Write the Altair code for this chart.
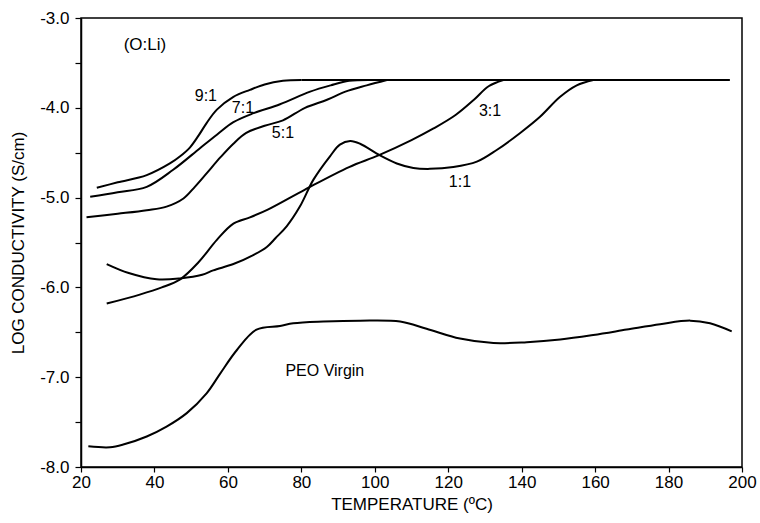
import altair as alt
import pandas as pd

# ---- data ----
t_91 = [24.3, 30, 37.9, 44.2, 47, 49.7, 52, 54.2, 57, 61.4, 66, 70, 75, 80]
l_91 = [-4.89, -4.83, -4.75, -4.62, -4.54, -4.44, -4.31, -4.17, -4.02, -3.88, -3.80, -3.74, -3.70, -3.69]

t_71 = [22.5, 30, 37.9, 45.1, 52.4, 57, 61.5, 67, 74.2, 82.4, 88, 93, 98.7]
l_71 = [-4.99, -4.94, -4.88, -4.69, -4.45, -4.30, -4.16, -4.06, -3.96, -3.82, -3.75, -3.70, -3.69]

t_51 = [21.5, 30, 37.9, 43.3, 47.9, 51, 54.2, 58, 61.5, 65, 70, 75, 81, 87, 92, 97.8, 103.3]
l_51 = [-5.22, -5.18, -5.14, -5.10, -5.01, -4.88, -4.73, -4.55, -4.40, -4.28, -4.20, -4.14, -4.00, -3.91, -3.82, -3.75, -3.69]

t_31 = [27, 36, 42, 47, 52, 57, 61.5, 66, 71, 81, 93, 101, 110, 116, 122, 127, 131, 135]
l_31 = [-6.18, -6.08, -6.00, -5.91, -5.72, -5.47, -5.29, -5.22, -5.13, -4.91, -4.66, -4.53, -4.36, -4.23, -4.08, -3.91, -3.76, -3.69]

t_11 = [27, 33, 40.6, 47, 53, 56, 61.5, 66.9, 70.6, 73, 76, 79.6, 83.3, 87.8, 90.5, 93.3, 96,
        101.4, 106, 110.5, 115, 121.4, 127.8, 133.2, 139.6, 145, 150.4, 155, 159.5]
l_11 = [-5.74, -5.84, -5.91, -5.90, -5.86, -5.81, -5.74, -5.64, -5.55, -5.45, -5.32, -5.10, -4.80,
        -4.54, -4.41, -4.37, -4.40, -4.53, -4.62, -4.67, -4.68, -4.66, -4.60, -4.47, -4.28, -4.10,
        -3.88, -3.75, -3.69]

t_peo = [22, 27.9, 31.5, 37.9, 43.3, 48.8, 54.2, 57.9, 62.4, 67.8, 74.2, 77.8, 86, 96, 106.9,
         114.1, 123.2, 132.3, 141.4, 150.5, 159.5, 168.6, 177.7, 185.9, 191.3, 197.2]
l_peo = [-7.77, -7.78, -7.75, -7.66, -7.55, -7.40, -7.18, -6.96, -6.70, -6.47, -6.43, -6.40, -6.38,
         -6.37, -6.38, -6.46, -6.57, -6.62, -6.61, -6.58, -6.53, -6.47, -6.41, -6.37, -6.40, -6.49]

t_plateau = [80, 196.7]
l_plateau = [-3.69, -3.69]

label_text = ["(O:Li)", "9:1", "7:1", "5:1", "3:1", "1:1", "PEO Virgin"]
label_t = [37.4, 54.0, 64.1, 75.0, 131.4, 123.2, 86.4]
label_l = [-3.30, -3.87, -4.00, -4.28, -4.04, -4.83, -6.93]
label_size = [17, 16, 16, 16, 16, 16, 16]

x_ticks = list(range(20, 201, 10))
y_ticks = [-8.0, -7.5, -7.0, -6.5, -6.0, -5.5, -5.0, -4.5, -4.0, -3.5, -3.0]

# ---- build table ----
series = {
    "9:1": (t_91, l_91),
    "7:1": (t_71, l_71),
    "5:1": (t_51, l_51),
    "3:1": (t_31, l_31),
    "1:1": (t_11, l_11),
    "PEO": (t_peo, l_peo),
    "plateau": (t_plateau, l_plateau),
}
rows = []
for name, (ts, ls) in series.items():
    for t, l in zip(ts, ls):
        rows.append({"series": name, "T": t, "L": l})
df = pd.DataFrame(rows)
labels = pd.DataFrame({"text": label_text, "T": label_t, "L": label_l, "size": label_size})

FONT = "Liberation Sans"

xscale = alt.Scale(domain=[20, 200], nice=False, zero=False)
yscale = alt.Scale(domain=[-8, -3], nice=False, zero=False)

lines = alt.Chart(df).mark_line(
    color="black", strokeWidth=2, interpolate="catmull-rom"
).encode(
    x=alt.X("T:Q", scale=xscale,
            axis=alt.Axis(title="TEMPERATURE (ºC)", values=x_ticks,
                          labelExpr="datum.value % 20 == 0 ? datum.label : ''",
                          labelFlush=False,
                          grid=False, tickSize=5, labelPadding=2, titlePadding=6)),
    y=alt.Y("L:Q", scale=yscale,
            axis=alt.Axis(title="LOG CONDUCTIVITY (S/cm)", values=y_ticks,
                          labelExpr="datum.value % 1 == 0 ? ((datum.value < 0 ? '-' : '') + format(abs(datum.value), '.1f')) : ''",
                          labelFlush=False,
                          grid=False, tickSize=6, labelPadding=6, titlePadding=12)),
    detail="series:N",
)

texts = alt.Chart(labels).mark_text(
    font=FONT, color="black", align="center", baseline="middle"
).encode(
    x=alt.X("T:Q", scale=xscale),
    y=alt.Y("L:Q", scale=yscale),
    text="text:N",
    size=alt.Size("size:Q", scale=None, legend=None),
)

chart = alt.layer(lines, texts).properties(
    width=661, height=449,
    padding={"left": 81, "top": 18, "right": 18, "bottom": 56},
    autosize=alt.AutoSizeParams(type="none"),
).configure(
    background="white"
).configure_view(
    stroke="black", strokeWidth=1.5
).configure_axis(
    domainColor="black", domainWidth=1.5, tickColor="black", tickWidth=1.2,
    labelColor="black", titleColor="black",
    labelFont=FONT, titleFont=FONT, labelFontSize=17, titleFontSize=17,
    titleFontWeight="normal",
)

chart.save("out.html", embed_options={"renderer": "svg", "actions": False})
